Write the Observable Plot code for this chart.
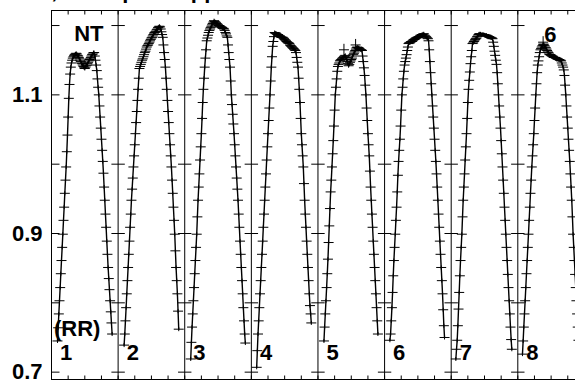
<!DOCTYPE html>
<html><head><meta charset="utf-8">
<script src="https://cdn.jsdelivr.net/npm/d3@7"></script>
<script src="https://cdn.jsdelivr.net/npm/@observablehq/plot@0.6"></script>
<style>
html,body{margin:0;padding:0;background:#fff;overflow:hidden;}
</style></head><body><div id="chart"></div>
<script>
// ---- data ----
const title = "Light curve, band pass applied";
const panelLabels = ["1","2","3","4","5","6","7","8"];
const startPhase = [0.09,0.09,0.09,0.08,0.09,0.08,0.07,0.07];
const cadence = 0.01;
const flux1 = [.745,.764,.784,.803,.822,.842,.861,.880,.899,.919,.938,.958,.977,.996,1.018,1.042,1.068,1.095,1.115,1.130,1.140,1.146,1.150,1.153,1.155,1.157,1.158,1.159,1.160,1.159,1.157,1.156,1.154,1.152,1.150,1.148,1.146,1.145,1.143,1.141,1.139,1.138,1.140,1.142,1.143,1.145,1.147,1.149,1.151,1.152,1.154,1.156,1.158,1.159,1.161,1.161,1.156,1.150,1.143,1.135,1.123,1.111,1.100,1.084,1.068,1.052,1.036,1.020,1.004,.987,.967,.948,.928,.909,.889,.870,.851,.835,.819,.803,.787,.771,.755];
const flux2 = [.739,.755,.774,.793,.813,.832,.851,.870,.889,.909,.928,.948,.964,.980,.996,1.012,1.028,1.044,1.060,1.076,1.092,1.108,1.124,1.138,1.141,1.144,1.147,1.150,1.152,1.155,1.158,1.161,1.163,1.166,1.169,1.171,1.172,1.174,1.176,1.178,1.180,1.182,1.183,1.185,1.187,1.189,1.190,1.191,1.192,1.194,1.195,1.197,1.198,1.199,1.198,1.195,1.191,1.187,1.183,1.172,1.161,1.151,1.140,1.124,1.108,1.092,1.076,1.060,1.044,1.028,1.012,.996,.977,.958,.938,.919,.899,.875,.851,.832,.813,.788,.762];
const flux3 = [.719,.743,.765,.784,.803,.822,.842,.861,.880,.899,.924,.948,.967,.986,1.006,1.025,1.044,1.066,1.089,1.108,1.124,1.140,1.153,1.165,1.178,1.182,1.186,1.190,1.193,1.195,1.197,1.199,1.201,1.203,1.205,1.207,1.206,1.205,1.204,1.203,1.202,1.201,1.200,1.200,1.199,1.198,1.198,1.197,1.196,1.196,1.195,1.193,1.190,1.188,1.185,1.183,1.172,1.161,1.151,1.140,1.120,1.100,1.086,1.072,1.058,1.044,1.028,1.012,.996,.980,.964,.948,.928,.909,.889,.870,.851,.832,.813,.793,.774,.755,.742];
const flux4 = [.707,.731,.755,.774,.793,.813,.832,.851,.870,.889,.909,.928,.948,.967,.986,1.006,1.025,1.044,1.063,1.081,1.100,1.120,1.140,1.155,1.170,1.177,1.184,1.190,1.189,1.189,1.188,1.187,1.187,1.186,1.185,1.185,1.184,1.183,1.183,1.183,1.182,1.181,1.180,1.179,1.178,1.177,1.176,1.175,1.175,1.174,1.172,1.171,1.170,1.169,1.168,1.167,1.166,1.165,1.164,1.161,1.154,1.147,1.140,1.124,1.108,1.089,1.066,1.044,1.028,1.012,.996,.972,.948,.928,.909,.889,.870,.851,.832,.813,.796,.784,.771];
const flux5 = [.745,.765,.784,.803,.822,.842,.863,.887,.911,.936,.960,.977,.996,1.015,1.034,1.055,1.078,1.100,1.111,1.123,1.134,1.141,1.144,1.146,1.149,1.150,1.151,1.152,1.153,1.154,1.155,1.156,1.157,1.154,1.151,1.148,1.145,1.142,1.144,1.147,1.149,1.151,1.153,1.156,1.158,1.160,1.162,1.164,1.166,1.168,1.169,1.168,1.168,1.167,1.166,1.165,1.165,1.164,1.156,1.148,1.139,1.128,1.114,1.100,1.081,1.063,1.044,1.028,1.012,.990,.967,.948,.928,.909,.889,.870,.851,.832,.813,.793,.774,.755];
const flux6 = [.746,.755,.774,.793,.815,.839,.861,.880,.899,.919,.938,.960,.984,1.004,1.020,1.036,1.055,1.078,1.100,1.111,1.123,1.134,1.143,1.148,1.153,1.158,1.164,1.169,1.174,1.175,1.175,1.176,1.177,1.177,1.178,1.179,1.180,1.180,1.181,1.182,1.182,1.183,1.183,1.184,1.184,1.185,1.186,1.186,1.187,1.187,1.188,1.188,1.186,1.185,1.184,1.183,1.182,1.181,1.178,1.165,1.148,1.132,1.116,1.100,1.084,1.068,1.052,1.036,1.020,1.004,.986,.967,.948,.928,.909,.889,.870,.851,.832,.813,.790,.767,.750];
const flux7 = [.719,.733,.746,.767,.791,.815,.839,.861,.880,.899,.924,.948,.967,.986,1.006,1.025,1.044,1.066,1.089,1.108,1.121,1.133,1.145,1.155,1.164,1.174,1.175,1.177,1.178,1.180,1.181,1.182,1.184,1.185,1.187,1.188,1.188,1.188,1.187,1.187,1.187,1.187,1.187,1.186,1.186,1.186,1.186,1.185,1.185,1.184,1.184,1.183,1.183,1.182,1.182,1.181,1.176,1.170,1.163,1.157,1.150,1.144,1.132,1.116,1.100,1.084,1.068,1.052,1.034,1.015,.996,.977,.958,.938,.919,.899,.880,.861,.841,.822,.803,.784,.765,.747,.733];
const flux8 = [.726,.745,.765,.784,.803,.822,.842,.861,.880,.899,.919,.938,.958,.977,.996,1.012,1.028,1.044,1.063,1.081,1.100,1.116,1.132,1.143,1.149,1.155,1.161,1.165,1.167,1.169,1.171,1.173,1.173,1.171,1.169,1.168,1.166,1.164,1.162,1.161,1.159,1.158,1.158,1.157,1.156,1.156,1.155,1.154,1.154,1.154,1.153,1.153,1.152,1.152,1.151,1.151,1.150,1.150,1.149,1.146,1.143,1.140,1.136,1.128,1.114,1.100,1.084,1.068,1.052,1.036,1.020,1.004,.986,.967,.948,.924,.899,.880,.861,.841,.822,.803,.784,.765,.746];
const outlierTime = [4.39, 4.565, 7.38];
const outlierFlux = [1.165, 1.172, 1.176];
const yTickValues = [0.7,0.8,0.9,1.0,1.1,1.2];
const yLabelValues = [0.7,0.9,1.1];
const xDomain = [0, 7.866];
const yDomain = [0.6894, 1.2217];

// ---- build tables ----
const fluxes = [flux1,flux2,flux3,flux4,flux5,flux6,flux7,flux8];
const pts = [];
fluxes.forEach((arr,k) => arr.forEach((v,i) => pts.push({k, t: k + startPhase[k] + i*cadence, f: v})));
const outliers = outlierTime.map((t,i) => ({t, f: outlierFlux[i]}));
const boundaries = d3.range(0, 9);
const bTicks = [];
boundaries.forEach(b => yTickValues.forEach(v => bTicks.push({b, v})));
const quarters = d3.range(0, 8.01, 0.25);
const numLabels = panelLabels.map((s,k) => ({s, t: k + 0.22, f: 0.728}));

// ---- symbols ----
const sym = fn => ({draw: fn});
const dash = sym(c => {c.moveTo(-5,0); c.lineTo(5,0); c.moveTo(0,-2); c.lineTo(0,2);});
const bigPlus = sym(c => {c.moveTo(-5,0); c.lineTo(5,0); c.moveTo(0,-6); c.lineTo(0,6);});
const tickBoth = sym(c => {c.moveTo(-6.7,0); c.lineTo(6.7,0);});
const tickIn = sym(c => {c.moveTo(0,0); c.lineTo(8,0);});
const tickDown = sym(c => {c.moveTo(0,0); c.lineTo(0,4);});
const tickUp = sym(c => {c.moveTo(0,0); c.lineTo(0,-4);});

const FS = 22;
const chart = Plot.plot({
  width: 575, height: 380,
  marginLeft: 51, marginRight: 0, marginTop: 10, marginBottom: 1,
  style: {fontFamily: "Arial, 'Liberation Sans', sans-serif", fontSize: FS + "px", fontWeight: "bold", overflow: "hidden", background: "#fff", color: "#000"},
  x: {domain: xDomain, axis: null},
  y: {domain: yDomain, ticks: yLabelValues, tickSize: 0, tickPadding: 9, tickFormat: d => d.toFixed(1), label: null},
  marks: [
    Plot.ruleY([yDomain[1]], {stroke: "#000", strokeWidth: 1}),
    Plot.ruleY([yDomain[0]], {stroke: "#000", strokeWidth: 1}),
    Plot.ruleX(boundaries, {stroke: "#000", strokeWidth: 1}),
    Plot.dot(quarters, {x: d => d, y: () => yDomain[1], symbol: tickDown, fill: "none", stroke: "#000", strokeWidth: 1}),
    Plot.dot(quarters, {x: d => d, y: () => yDomain[0], symbol: tickUp, fill: "none", stroke: "#000", strokeWidth: 1}),
    Plot.dot(bTicks.filter(d => d.b > 0), {x: "b", y: "v", symbol: tickBoth, fill: "none", stroke: "#000", strokeWidth: 1}),
    Plot.dot(bTicks.filter(d => d.b === 0), {x: "b", y: "v", symbol: tickIn, fill: "none", stroke: "#000", strokeWidth: 1}),
    Plot.dot(pts, {x: "t", y: "f", symbol: dash, fill: "none", stroke: "#000", strokeWidth: 1}),
    Plot.line(pts, {x: "t", y: "f", z: "k", stroke: "#000", strokeWidth: 1.4}),
    Plot.dot(outliers, {x: "t", y: "f", symbol: bigPlus, fill: "none", stroke: "#000", strokeWidth: 1}),
    Plot.text(numLabels, {x: "t", y: "f", text: "s", fontSize: FS, fontWeight: "bold", fill: "#000"}),
    Plot.text(["NT"], {x: () => 0.56, y: () => 1.188, fontSize: FS, fontWeight: "bold", fill: "#000"}),
    Plot.text(["(RR)"], {x: () => 0.385, y: () => 0.763, fontSize: FS, fontWeight: "bold", fill: "#000"}),
    Plot.text(["6"], {x: () => 7.49, y: () => 1.186, fontSize: FS, fontWeight: "bold", fill: "#000"}),
    Plot.text([title], {frameAnchor: "top-left", dx: 204, dy: -13, textAnchor: "end", lineAnchor: "bottom", fontSize: FS, fontWeight: "bold", fill: "#000"})
  ]
});
document.getElementById("chart").appendChild(chart);
</script></body></html>
